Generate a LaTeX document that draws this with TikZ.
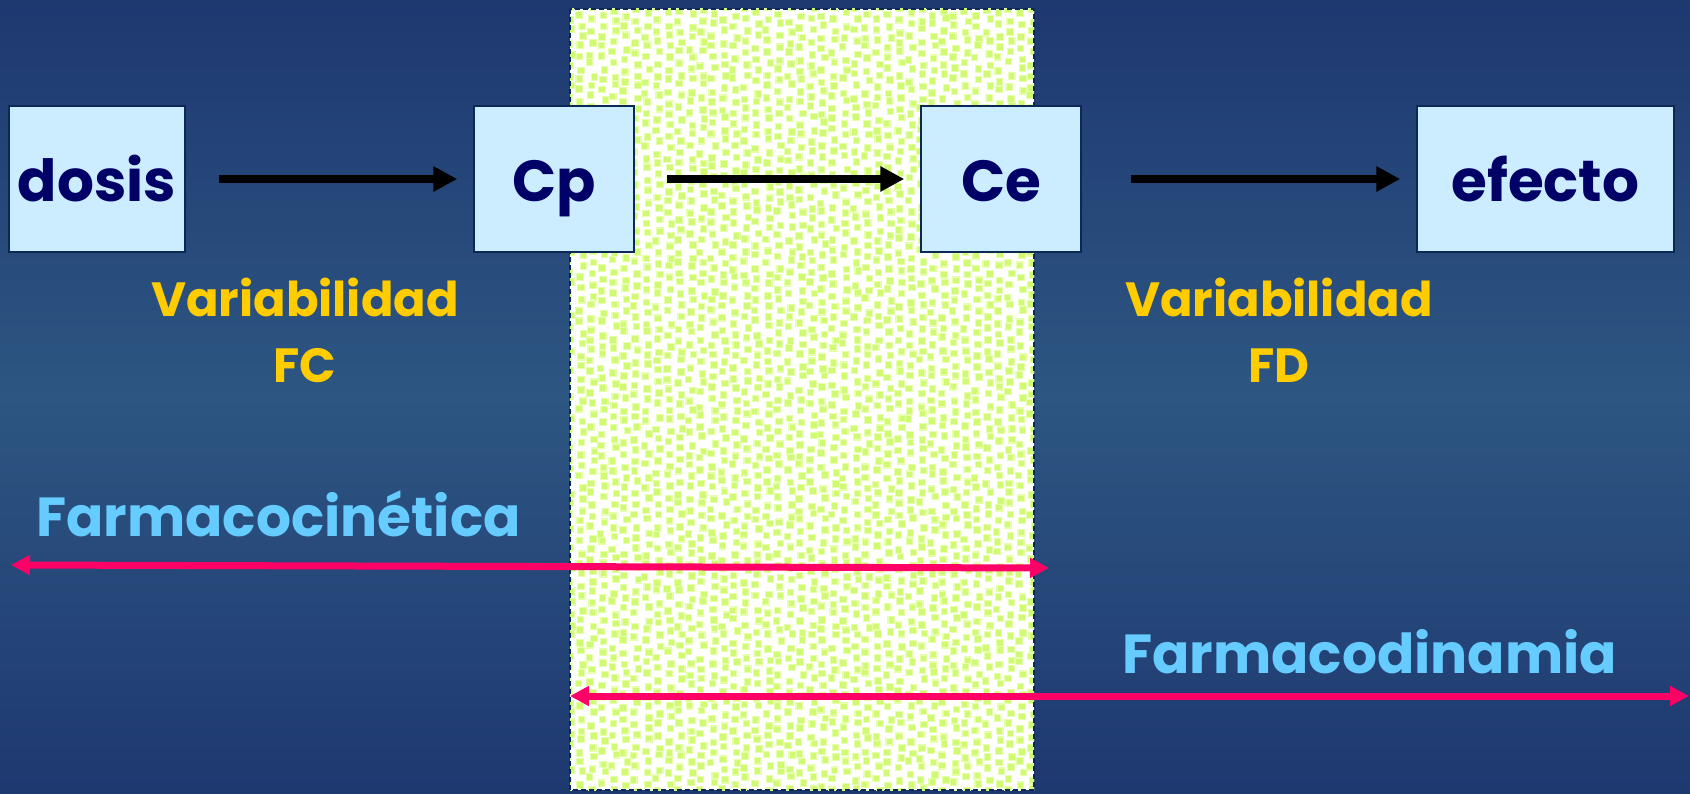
\documentclass[tikz,border=0pt]{standalone}
\usepackage{fontspec}
\setmainfont{Poppins}
\usetikzlibrary{arrows.meta}
\definecolor{bgtop}{RGB}{30,56,112}
\definecolor{bgmid}{RGB}{45,86,130}
\definecolor{boxfill}{RGB}{204,236,255}
\definecolor{boxline}{RGB}{12,40,84}
\definecolor{ink}{RGB}{0,0,102}
\definecolor{gold}{RGB}{255,204,0}
\definecolor{sky}{RGB}{102,204,255}
\definecolor{rose}{RGB}{255,0,102}
\definecolor{limesoft}{RGB}{230,255,170}
\definecolor{limecore}{RGB}{208,250,115}
\tikzset{
  stage/.style={draw=boxline, line width=1.5pt, fill=boxfill, text=ink,
    font=\bfseries\fontsize{58}{62}\selectfont, inner sep=0pt,
    text height=46pt, text depth=0pt, minimum height=146pt},
  flow/.style={line width=8pt, -{Triangle[length=24pt,width=24pt]}},
  span/.style={rose, line width=7pt,
    {Triangle[length=19pt,width=19pt]}-{Triangle[length=19pt,width=19pt]}},
  varlabel/.style={text=gold, font=\bfseries\fontsize{48}{52}\selectfont,
    inner sep=0pt, anchor=base},
  fieldlabel/.style={text=sky, font=\bfseries\fontsize{55}{60}\selectfont,
    inner sep=0pt, anchor=base west}
}
\begin{document}
\begin{tikzpicture}[x=1pt,y=-1pt]
\useasboundingbox (0,0) rectangle (1690,794);
% background gradient, lighter across the middle
\shade[top color=bgtop, bottom color=bgtop, middle color=bgmid]
  (0,0) rectangle (1690,794);

% speckled band
\begin{scope}
  \clip (570,9) rectangle (1034,790);
  \fill[white] (570,9) rectangle (1034,790);
  \pgfmathsetseed{42}
  \foreach \i in {0,...,42}{
    \foreach \j in {0,...,71}{
      \pgfmathsetmacro\px{570+11*\i+2.5*rand}
      \pgfmathsetmacro\py{9+11*\j+2.5*rand+5.5*mod(\i,2)}
      \fill[limesoft] (\px-3.8,\py-3.8) rectangle (\px+3.8,\py+3.8);
      \fill[limecore] (\px-2.7,\py-2.7) rectangle (\px+2.7,\py+2.7);
    }
  }
\end{scope}
\draw[boxline, line width=1.5pt, dash pattern=on 5pt off 3pt]
  (570,9) rectangle (1034,790);

% stages
\node[stage, minimum width=176pt] (dosis)  at (97,179)     {dosis};
\node[stage, minimum width=160pt] (cp)     at (554,179)    {Cp};
\node[stage, minimum width=160pt] (ce)     at (1001,179)   {Ce};
\node[stage, minimum width=257pt] (efecto) at (1545.5,179) {efecto};

\draw[flow, shorten <=33pt, shorten >=16pt] (dosis) -- (cp);
\draw[flow, shorten <=32pt, shorten >=16pt] (cp) -- (ce);
\draw[flow, shorten <=49pt, shorten >=16pt] (ce) -- (efecto);

% variability labels
\node[varlabel] (fc1) at (305,317) {Variabilidad};
\node[varlabel] (fc2) at (305,382) {FC};
\node[varlabel] (fd1) at (1279,317) {Variabilidad};
\node[varlabel] (fd2) at (1279,382) {FD};

% ranges
\node[fieldlabel] (fcin) at (36,536) {Farmacocinética};
\coordinate (fcL) at (11,565);
\coordinate (fcR) at (1049,568);
\draw[span] (fcL) -- (fcR);

\node[fieldlabel] (fdin) at (1122,673) {Farmacodinamia};
\coordinate (fdL) at (570,696);
\coordinate (fdR) at (1689,696);
\draw[span] (fdL) -- (fdR);
\end{tikzpicture}
\end{document}
